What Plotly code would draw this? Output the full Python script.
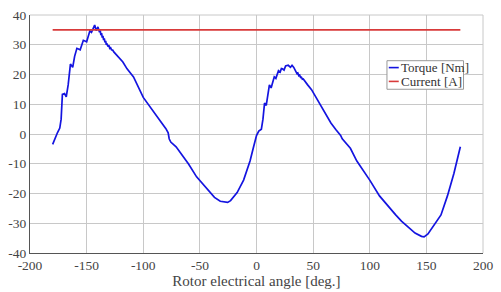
import plotly.graph_objects as go

# Torque [Nm] vs rotor electrical angle [deg.]
angle = [-180, -177.5, -175.7, -173.7, -172.5, -171.4, -169.5, -168, -166.3, -164.3, -162.3,
         -160.6, -158.6, -155.7, -152.9, -150, -147.1, -145.7, -144.3, -142.9, -141.4,
         -140, -138.6, -138, -137.4, -136.8, -136.2, -135.6, -135, -134.4, -133.8, -133.2,
         -132.6, -132, -131.2, -130.4, -129.6, -128.8, -128, -127, -126, -125, -122.9,
         -118, -114.3, -108.6, -100, -91.4, -84, -80, -78, -77.1, -75.7, -71, -67.1, -60,
         -52.9, -45.7, -37.1, -32, -28.6, -25.5, -22.9, -17.1, -11.4, -5.7, -2.9, 0, 2, 4.3,
         5.7, 7.1, 8.6, 10, 11.4, 12.9, 14.3, 15.7, 17.1, 18.3, 19.4, 20.9, 22.0, 22.9, 24.3,
         25.7, 28, 30, 31.4, 32.9, 34.3, 35.7, 36.5, 37.3, 38.1, 38.9, 39.7, 40.5, 41.3,
         42.9, 45, 48.6, 57.1, 65.7, 70, 74.3, 75.7, 77.1, 82.9,
         88.6, 100, 108.6, 115, 122.9, 128, 134.3, 140, 145.7, 148, 151.4, 157.1, 162.9,
         168.6, 174.3, 180]
torque = [-3.5, -1.0, 0.5, 2.0, 5.0, 13.3, 13.6, 12.5, 16.5, 23.5, 22.4,
          26.1, 28.8, 28.3, 31.5, 31.0, 34.7, 34.2, 35.2, 36.6, 34.7,
          36.0, 34.2, 34.8, 33.2, 33.9, 32.4, 33.0, 31.6, 32.1, 30.8, 31.3,
          30.0, 30.4, 29.4, 29.8, 28.8, 29.0, 28.3, 28.2, 27.6, 27.2, 26.1,
          24.2, 21.9, 19.2, 12.3, 8.0, 3.9, 1.8, 0.4, -1.6, -2.7, -4.3, -6.4, -10.1,
          -14.4, -17.6, -21.3, -22.6, -22.9, -23.0, -22.4, -19.7, -15.5, -9.1, -4.8, -0.5, 1.0, 1.6,
          5.0, 10.4, 9.6, 12.5, 16.5, 15.5, 17.5, 19.2, 18.7, 20.3, 21.3, 20.8, 22.0, 21.9, 21.5,
          22.9, 23.1, 22.4, 23.1, 22.4, 21.4, 20.3, 20.5, 19.6, 19.8, 19.0, 19.1, 18.4, 18.5,
          17.6, 16.6, 14.9, 9.1, 3.7, 1.5, -0.5, -1.6, -2.2, -4.8,
          -9.1, -15.5, -20.8, -23.8, -27.2, -29.3, -31.5, -33.3, -34.4, -34.6, -33.6, -30.4, -27.2,
          -20.8, -13.3, -4.3]

# Current [A]
current_angle = [-180, 180]
current = [35, 35]

series_names = ["Torque [Nm]", "Current [A]"]
series_colors = ["#1414e0", "#d83a3a"]
x_ticks = [-200, -150, -100, -50, 0, 50, 100, 150, 200]
y_ticks = [-40, -30, -20, -10, 0, 10, 20, 30, 40]
x_title = "Rotor electrical angle [deg.]"

font_family = "serif"

fig = go.Figure()
fig.add_trace(go.Scatter(x=angle, y=torque, mode="lines", name=series_names[0],
                         line=dict(color=series_colors[0], width=1.7)))
fig.add_trace(go.Scatter(x=current_angle, y=current, mode="lines", name=series_names[1],
                         line=dict(color=series_colors[1], width=1.6)))

fig.update_layout(
    width=501, height=292,
    margin=dict(l=20, r=14, t=8, b=35),
    paper_bgcolor="white", plot_bgcolor="white",
    font=dict(family=font_family, size=13, color="#444"),
    showlegend=False,
    xaxis=dict(range=[-200, 200], tickvals=x_ticks, ticktext=[str(v) for v in x_ticks],
               showgrid=True, gridcolor="#c8c8c8", gridwidth=1,
               showline=True, linecolor="#555", linewidth=1.2,
               ticks="", zeroline=False,
               title=dict(text=x_title, standoff=0, font=dict(family=font_family, size=15, color="#444")),
               tickfont=dict(family=font_family, size=13.5, color="#444")),
    yaxis=dict(range=[-40, 40], tickvals=y_ticks, ticktext=[str(v) for v in y_ticks],
               showgrid=True, gridcolor="#c8c8c8", gridwidth=1,
               showline=True, linecolor="#555", linewidth=1.2,
               ticks="", zeroline=False,
               tickfont=dict(family=font_family, size=13.5, color="#444")),
)
fig.add_shape(type="line", xref="paper", yref="paper", x0=0, x1=1, y0=1, y1=1,
              line=dict(color="#c8c8c8", width=1))
fig.add_shape(type="line", xref="paper", yref="paper", x0=1, x1=1, y0=0, y1=1,
              line=dict(color="#c8c8c8", width=1))

lx0, lx1, ly0, ly1 = 0.788, 0.957, 0.688, 0.808
fig.add_shape(type="rect", xref="paper", yref="paper", x0=lx0, x1=lx1, y0=ly0, y1=ly1,
              fillcolor="white", line=dict(color="#999", width=1))
row_y = [0.779, 0.721]
for name, color, ry in zip(series_names, series_colors, row_y):
    fig.add_shape(type="line", xref="paper", yref="paper", x0=lx0 + 0.004, x1=lx0 + 0.026,
                  y0=ry, y1=ry, line=dict(color=color, width=1.6))
    fig.add_annotation(xref="paper", yref="paper", x=lx0 + 0.026, y=ry, text=name,
                       showarrow=False, xanchor="left", yanchor="middle",
                       font=dict(family=font_family, size=13, color="#333"))

fig.write_html("out.html")
